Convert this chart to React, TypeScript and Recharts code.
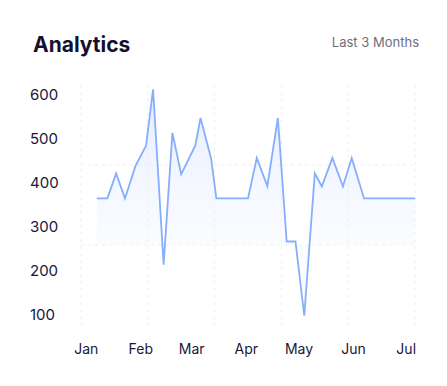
import { Area, AreaChart, CartesianGrid, XAxis, YAxis } from "recharts"

// day offsets from Jan 1 and the values at each point
const days = [6, 12, 17, 22, 28, 34, 38, 44, 49, 54, 62, 65, 71, 74, 92, 97, 103, 109, 114, 119, 124, 130, 134, 140, 146, 151, 158, 187]
const values = [365, 365, 422, 365, 439, 485, 613, 214, 514, 420, 485, 548, 456, 365, 365, 457, 393, 548, 267, 267, 98, 422, 392, 457, 392, 457, 365, 365]

const monthTicks = [0, 31, 60, 91, 121, 152, 182]
const monthLabels = ["Jan", "Feb", "Mar", "Apr", "May", "Jun", "Jul"]
const yTicks = [100, 200, 300, 400, 500, 600]

// background grid: 5 columns, 3 rows (outer horizontal edges not drawn)
const gridCols = [0, 1, 2, 3, 4, 5]
const gridRows = [1, 2]

const data = days.map((d, i) => ({ day: d, value: values[i] }))

const font = "Inter, 'Noto Sans', sans-serif"
const ink = "#1a1738"

function MonthTick(props: any) {
  const { x, y, payload } = props
  const idx = monthTicks.indexOf(payload.value)
  return (
    <text x={x} y={y + 29} textAnchor="middle" fontSize={14} fill={ink} fontFamily={font}>
      {monthLabels[idx]}
    </text>
  )
}

function ValueTick(props: any) {
  const { y, payload } = props
  return (
    <text x={30} y={y + 5} textAnchor="start" fontSize={15} fill={ink} fontFamily={font}>
      {payload.value}
    </text>
  )
}

export default function App() {
  return (
    <div style={{ position: "fixed", top: 0, left: 0, width: 447, height: 386, background: "#fff", fontFamily: font }}>
      <div style={{ position: "absolute", left: 33, top: 32, fontSize: 21, fontWeight: 700, color: "#14112e", lineHeight: "26px" }}>
        Analytics
      </div>
      <div style={{ position: "absolute", right: 28, top: 34, fontSize: 13, color: "#6f6f7c", lineHeight: "16px" }}>
        Last 3 Months
      </div>
      <AreaChart width={447} height={386} data={data} margin={{ top: 85, right: 32, bottom: 31, left: 21 }}>
        <defs>
          <linearGradient id="areaFill" x1="0" y1="0" x2="0" y2="1">
            <stop offset="0%" stopColor="#dce6ff" stopOpacity={0.75} />
            <stop offset="100%" stopColor="#f4f7ff" stopOpacity={0} />
          </linearGradient>
        </defs>
        <CartesianGrid
          stroke="#eeeef2"
          strokeDasharray="3 4"
          verticalCoordinatesGenerator={({ offset }: any) =>
            gridCols.map((c) => offset.left + (offset.width * c) / (gridCols.length - 1))
          }
          horizontalCoordinatesGenerator={({ offset }: any) =>
            gridRows.map((r) => offset.top + (offset.height * r) / 3)
          }
        />
        <XAxis
          dataKey="day"
          type="number"
          domain={[-3, 187]}
          ticks={monthTicks}
          axisLine={false}
          tickLine={false}
          tickSize={0}
          tickMargin={0}
          height={30}
          tick={<MonthTick />}
          interval={0}
        />
        <YAxis
          type="number"
          domain={[77, 623]}
          ticks={yTicks}
          axisLine={false}
          tickLine={false}
          width={60}
          tick={<ValueTick />}
          interval={0}
        />
        <Area
          type="linear"
          dataKey="value"
          stroke="#86aefc"
          strokeWidth={1.8}
          fill="url(#areaFill)"
          fillOpacity={1}
          baseValue={260}
          dot={false}
          activeDot={false}
          isAnimationActive={false}
        />
      </AreaChart>
    </div>
  )
}
